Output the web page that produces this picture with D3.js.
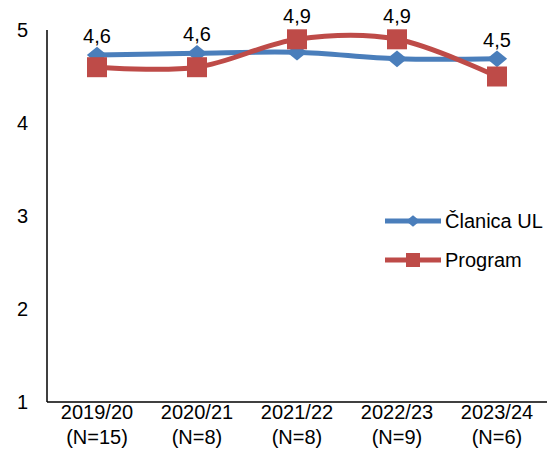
<!DOCTYPE html>
<html>
<head>
<meta charset="utf-8">
<script src="https://cdn.jsdelivr.net/npm/d3@7"></script>
<style>
  body { margin: 0; background: #fff; }
  text { font-family: "Liberation Sans", Arial, sans-serif; fill: #000; }
</style>
</head>
<body>
<svg id="chart" width="556" height="466"></svg>
<script>
// data
var years = ["2019/20", "2020/21", "2021/22", "2022/23", "2023/24"];
var counts = ["(N=15)", "(N=8)", "(N=8)", "(N=9)", "(N=6)"];
var clanica = [4.73, 4.75, 4.76, 4.69, 4.69];
var program = [4.6, 4.6, 4.9, 4.9, 4.5];
var yTicks = [1, 2, 3, 4, 5];

var blue = "#4a7ebb", red = "#be4b48";

var svg = d3.select("#chart");
var mLeft = 47, mRight = 547, mTop = 30, mBottom = 402;

var x = d3.scaleBand().domain(years).range([mLeft, mRight]);
var y = d3.scaleLinear().domain([1, 5]).range([mBottom, mTop]);
var cx = function(i) { return x(years[i]) + x.bandwidth() / 2; };

// axes
svg.append("line").attr("x1", mLeft).attr("x2", mLeft).attr("y1", mTop).attr("y2", mBottom)
  .attr("stroke", "#000").attr("stroke-width", 1.5);
svg.append("line").attr("x1", mLeft).attr("x2", mRight).attr("y1", mBottom).attr("y2", mBottom)
  .attr("stroke", "#000").attr("stroke-width", 1.5);

svg.selectAll(".ytick").data(yTicks).enter().append("text")
  .attr("x", 28).attr("y", function(d) { return y(d); })
  .attr("dy", "0.35em").attr("text-anchor", "end")
  .style("font-size", "20px").text(function(d) { return d; });

var xl = svg.selectAll(".xlab").data(years).enter().append("text")
  .attr("text-anchor", "middle").style("font-size", "20px");
xl.append("tspan").attr("x", function(d, i) { return cx(i); }).attr("y", 419)
  .text(function(d) { return d; });
xl.append("tspan").attr("x", function(d, i) { return cx(i); }).attr("y", 444)
  .text(function(d, i) { return counts[i]; });

var line = d3.line()
  .x(function(d, i) { return cx(i); })
  .y(function(d) { return y(d); })
  .curve(d3.curveCardinal.tension(0));

// flat-ish diamond like excel's
var diamond = d3.symbol().type(d3.symbolSquare).size(170);

// Članica UL
svg.append("path").datum(clanica).attr("d", line)
  .attr("fill", "none").attr("stroke", blue).attr("stroke-width", 5);
svg.selectAll(".dia").data(clanica).enter().append("path")
  .attr("d", diamond)
  .attr("transform", function(d, i) { return "translate(" + cx(i) + "," + y(d) + ") scale(1.1,0.9) rotate(45)"; })
  .attr("fill", blue);

// Program
svg.append("path").datum(program).attr("d", line)
  .attr("fill", "none").attr("stroke", red).attr("stroke-width", 5);
svg.selectAll(".sq").data(program).enter().append("rect")
  .attr("x", function(d, i) { return cx(i) - 10; })
  .attr("y", function(d) { return y(d) - 10; })
  .attr("width", 20).attr("height", 20)
  .attr("fill", red);

// labels, kept clear of both markers
svg.selectAll(".lab").data(program).enter().append("text")
  .attr("x", function(d, i) { return cx(i); })
  .attr("y", function(d, i) { return Math.min(y(d) - 23, y(clanica[i]) - 19); })
  .attr("dy", "0.35em")
  .attr("text-anchor", "middle").style("font-size", "20px")
  .text(function(d) { return d3.format(".1f")(d).replace(".", ","); });

// legend
var leg = [["Članica UL", blue, "d"], ["Program", red, "s"]];
leg.forEach(function(l, i) {
  var ly = 221 + i * 39;
  svg.append("line").attr("x1", 385).attr("x2", 441).attr("y1", ly).attr("y2", ly)
    .attr("stroke", l[1]).attr("stroke-width", 5);
  if (l[2] == "d") {
    svg.append("path").attr("d", d3.symbol().type(d3.symbolSquare).size(80))
      .attr("transform", "translate(413," + ly + ") scale(1.1,0.9) rotate(45)").attr("fill", l[1]);
  } else {
    svg.append("rect").attr("x", 406).attr("y", ly - 7).attr("width", 14).attr("height", 14)
      .attr("fill", l[1]);
  }
  svg.append("text").attr("x", 445).attr("y", ly).attr("dy", "0.35em")
    .style("font-size", "20px").text(l[0]);
});
</script>
</body>
</html>
